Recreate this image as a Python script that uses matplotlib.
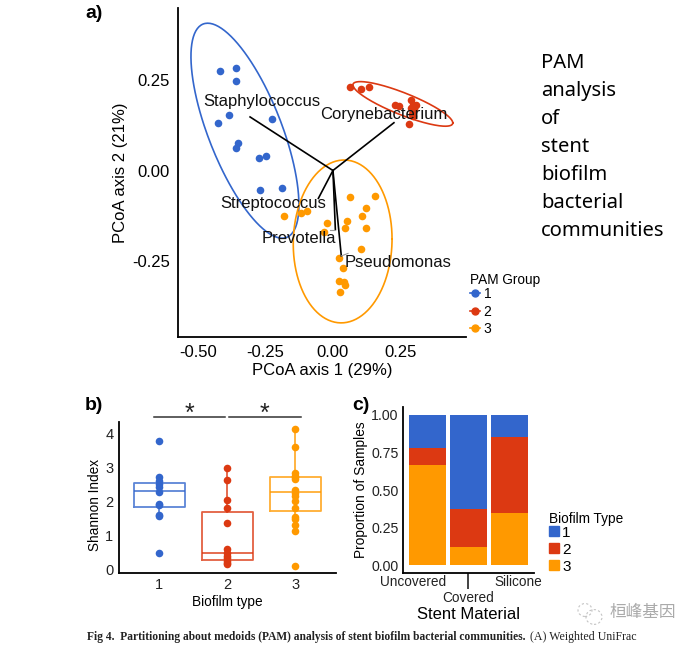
import numpy as np
import matplotlib
matplotlib.use("Agg")
import matplotlib.pyplot as plt
from matplotlib.lines import Line2D
from matplotlib.patches import Patch, Circle

plt.rcParams['font.family'] = ['Liberation Sans', 'DejaVu Sans']

W, H = 699, 645
blue, red, orange = '#3366CC', '#DC3912', '#FF9900'
colors = [blue, red, orange]

# panel a data
a_blue_x = [-0.419, -0.358, -0.360, -0.384, -0.426, -0.226, -0.352, -0.360, -0.273, -0.247, -0.270, -0.190]
a_blue_y = [0.274, 0.283, 0.246, 0.154, 0.131, 0.143, 0.075, 0.062, 0.035, 0.041, -0.055, -0.048]
a_red_x = [0.064, 0.105, 0.132, 0.231, 0.246, 0.288, 0.295, 0.307, 0.301, 0.294, 0.281, 0.298, 0.290]
a_red_y = [0.231, 0.226, 0.230, 0.182, 0.178, 0.196, 0.180, 0.180, 0.169, 0.156, 0.128, 0.150, 0.172]
a_orange_x = [0.062, 0.156, 0.122, 0.109, 0.053, 0.043, 0.121, -0.022, -0.032, -0.180, -0.120, -0.097,
              0.104, 0.022, 0.038, 0.022, 0.040, 0.046, 0.025]
a_orange_y = [-0.072, -0.070, -0.103, -0.125, -0.139, -0.158, -0.160, -0.144, -0.169, -0.125, -0.117, -0.112,
              -0.217, -0.243, -0.269, -0.305, -0.309, -0.317, -0.336]

# centre x, centre y, half width, half height, correlation
ell_blue = (-0.326, 0.110, 0.200, 0.297, -0.69)
ell_red = (0.259, 0.184, 0.185, 0.0616, -0.85)
ell_orange = (0.036, -0.196, 0.183, 0.225, 0.03)

taxa = ['Staphylococcus', 'Corynebacterium', 'Streptococcus', 'Prevotella', 'Pseudomonas']
arrow_x = [-0.307, 0.226, -0.054, 0.009, 0.031]
arrow_y = [0.148, 0.132, -0.077, -0.163, -0.236]
label_x = [-0.263, 0.190, -0.222, -0.126, 0.241]
label_y = [0.190, 0.156, -0.090, -0.187, -0.255]

# panel b data
b_1 = [3.77, 2.71, 2.61, 2.51, 2.42, 2.29, 1.93, 1.90, 1.60, 1.58, 0.50]
b_2 = [2.98, 2.63, 2.05, 1.81, 1.38, 0.60, 0.51, 0.41, 0.34, 0.27, 0.19, 0.18]
b_3 = [4.13, 3.59, 2.83, 2.75, 2.71, 2.65, 2.34, 2.26, 2.16, 2.03, 1.80, 1.56, 1.48, 1.32, 1.13, 0.12]
box_q1 = [1.83, 0.28, 1.74]
box_med = [2.32, 0.49, 2.27]
box_q3 = [2.55, 1.70, 2.71]
box_lo = [1.58, 0.18, 1.13]
box_hi = [2.71, 2.98, 4.13]

# panel c data
materials = ['Uncovered', 'Covered', 'Silicone']
prop_3 = [0.667, 0.124, 0.348]
prop_2 = [0.110, 0.249, 0.503]
prop_1 = [0.223, 0.627, 0.149]

side_text = ['PAM', 'analysis', 'of', 'stent', 'biofilm', 'bacterial', 'communities']


def make_axes(left, right, top, bottom):
    ax = fig.add_axes([left / W, 1 - bottom / H, (right - left) / W, (bottom - top) / H])
    ax.spines['top'].set_visible(False)
    ax.spines['right'].set_visible(False)
    ax.spines['left'].set_linewidth(1.3)
    ax.spines['bottom'].set_linewidth(1.3)
    ax.patch.set_alpha(0)
    return ax


def ellipse(ax, params, color):
    cx, cy, rx, ry, r = params
    t = np.linspace(0, 2 * np.pi, 200)
    ax.plot(cx + rx * np.cos(t), cy + ry * (r * np.cos(t) + np.sqrt(1 - r ** 2) * np.sin(t)),
            color=color, lw=1.2, zorder=2)


fig = plt.figure(figsize=(W / 100, H / 100), dpi=100)

# ---- a) ----
ax = make_axes(178, 466, 8, 337)
ax.set_xlim(-0.574, 0.493)
ax.set_ylim(-0.46, 0.449)
ax.scatter(a_blue_x, a_blue_y, s=30, color=blue, lw=0, zorder=3)
ax.scatter(a_red_x, a_red_y, s=30, color=red, lw=0, zorder=3)
ax.scatter(a_orange_x, a_orange_y, s=30, color=orange, lw=0, zorder=3)
ellipse(ax, ell_blue, blue)
ellipse(ax, ell_red, red)
ellipse(ax, ell_orange, orange)
for i in range(len(taxa)):
    ax.plot([0, arrow_x[i]], [0, arrow_y[i]], color='black', lw=1.2, zorder=4)
    ax.text(label_x[i], label_y[i], taxa[i], fontsize=12, ha='center', va='center', color='#111111', zorder=5)
ax.plot([arrow_x[3], arrow_x[3] - 0.02], [arrow_y[3], arrow_y[3]], color='#999999', lw=0.8, zorder=4)
ax.plot([arrow_x[4], arrow_x[4] + 0.025], [arrow_y[4], arrow_y[4] + 0.007], color='#999999', lw=0.8, zorder=4)
ax.set_xticks([-0.5, -0.25, 0, 0.25])
ax.set_xticklabels(['-0.50', '-0.25', '0.00', '0.25'])
ax.set_yticks([-0.25, 0, 0.25])
ax.set_yticklabels(['-0.25', '0.00', '0.25'])
ax.tick_params(length=0, labelsize=12, pad=6)
ax.set_xlabel('PCoA axis 1 (29%)', fontsize=12, labelpad=2)
ax.set_ylabel('PCoA axis 2 (21%)', fontsize=12, labelpad=3)

handles = [Line2D([], [], color=c, marker='o', ms=5, lw=1.2) for c in colors]
leg = fig.legend(handles, ['1', '2', '3'], title='PAM Group', loc='upper left', bbox_to_anchor=(467 / W, 1 - 270 / H),
                 frameon=False, fontsize=10, title_fontsize=9.8, handlelength=0.75, handletextpad=0.25,
                 labelspacing=0.27, borderpad=0.2, borderaxespad=0, alignment='left')
leg._legend_box.sep = 0

for i, word in enumerate(side_text):
    fig.text(541 / W, 1 - (63 + i * 28) / H, word, fontsize=14.5, family='Noto Sans', va='center', color='black')

# ---- b) ----
ax = make_axes(119, 336, 421.7, 572.7)
ax.set_xlim(0.407, 3.6)
ax.set_ylim(-0.08, 4.34)
stats = [{'med': box_med[i], 'q1': box_q1[i], 'q3': box_q3[i], 'whislo': box_lo[i], 'whishi': box_hi[i]}
         for i in range(3)]
for i, vals in enumerate([b_1, b_2, b_3]):
    c = colors[i]
    props = dict(color=c, lw=1.3, alpha=0.8)
    ax.bxp([stats[i]], positions=[i + 1], widths=0.755, showcaps=False, showfliers=False,
           boxprops=props, medianprops=props, whiskerprops=props, manage_ticks=False)
    ax.scatter([i + 1] * len(vals), vals, s=30, color=c, lw=0, zorder=3)
ax.set_xticks([1, 2, 3])
ax.set_yticks([0, 1, 2, 3, 4])
ax.tick_params(axis='x', length=0, labelsize=10.5, pad=4, colors='#222222')
ax.tick_params(axis='y', length=0, labelsize=10.5, pad=4, colors='#222222')
ax.set_xlabel('Biofilm type', fontsize=9.8, labelpad=2)
ax.set_ylabel('Shannon Index', fontsize=9.8, y=0.45, labelpad=2)
# significance bars
for x0, x1 in [(0.92, 1.97), (2.03, 3.08)]:
    ax.plot([x0, x1], [4.48, 4.48], color='#333333', lw=1.1, clip_on=False)
    ax.text((x0 + x1) / 2, 4.56, '*', fontsize=18, ha='center', va='center', color='#222222')

# ---- c) ----
ax = make_axes(402.7, 534, 407, 572.7)
ax.set_xlim(0.4, 3.6)
ax.set_ylim(-0.05, 1.053)
xs = np.arange(1, 4)
p3 = np.array(prop_3)
p2 = np.array(prop_2)
p1 = np.array(prop_1)
ax.bar(xs, p3, width=0.9, color=orange)
ax.bar(xs, p2, width=0.9, bottom=p3, color=red)
ax.bar(xs, p1, width=0.9, bottom=p3 + p2, color=blue)
ax.set_yticks([0, 0.25, 0.5, 0.75, 1])
ax.set_yticklabels(['0.00', '0.25', '0.50', '0.75', '1.00'])
ax.tick_params(axis='y', length=0, labelsize=10.2, pad=3, colors='#222222')
ax.set_xticks([2])
ax.set_xticklabels([materials[1]])
ax.tick_params(axis='x', length=11.5, width=1.2, labelsize=9.8, pad=2, colors='#222222')
ax.text(0.65, -0.115, materials[0], fontsize=9.8, ha='center', va='center', color='#222222', clip_on=False)
ax.text(3.21, -0.115, materials[2], fontsize=9.8, ha='center', va='center', color='#222222', clip_on=False)
ax.set_xlabel('Stent Material', fontsize=12, labelpad=1)
ax.set_ylabel('Proportion of Samples', fontsize=9.9, labelpad=2)

handles = [Patch(color=c) for c in colors]
leg = fig.legend(handles, ['1', '2', '3'], title='Biofilm Type', loc='upper left', bbox_to_anchor=(546 / W, 1 - 508.5 / H),
                 frameon=False, fontsize=11, title_fontsize=9.8, handlelength=0.65, handleheight=0.65,
                 handletextpad=0.2, labelspacing=0.2, borderpad=0.2, borderaxespad=0, alignment='left')
leg._legend_box.sep = 0

# panel letters, watermark and caption
fig.text(85 / W, 1 - 14 / H, 'a)', fontsize=14, fontweight='bold', va='center')
fig.text(85 / W, 1 - 406 / H, 'b)', fontsize=14, fontweight='bold', va='center')
fig.text(352 / W, 1 - 406 / H, 'c)', fontsize=14, fontweight='bold', va='center')
fig.text(610 / W, 1 - 613 / H, '桓峰基因', fontsize=12, family=['Noto Sans CJK SC', 'DejaVu Sans'],
         color='#aaaaaa', va='center')
for cx, cy, r in [(585, 610, 7), (594, 617, 8)]:
    fig.add_artist(Circle((cx / W, 1 - cy / H), r / W, transform=fig.transFigure, fill=False,
                          ec='#c4c4c4', lw=0.8, ls=(0, (2, 2))))
fig.text(87 / W, 1 - 637 / H, 'Fig 4.  Partitioning about medoids (PAM) analysis of stent biofilm bacterial communities.',
         fontsize=8.3, family='Liberation Serif', fontweight='bold', va='center', color='#222222')
fig.text(530 / W, 1 - 637 / H, '(A) Weighted UniFrac', fontsize=8.6, family='Liberation Serif', va='center',
         color='#222222')

fig.savefig('out.png', dpi=100)
